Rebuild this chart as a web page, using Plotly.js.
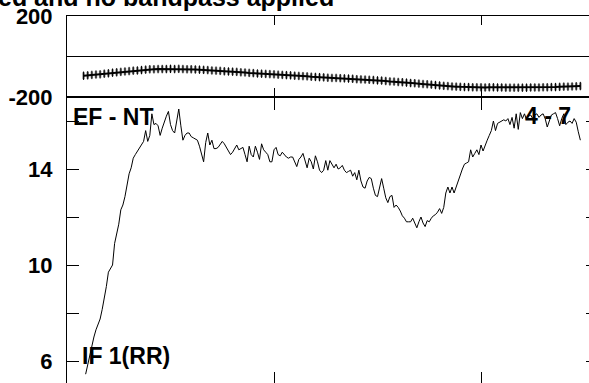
<!DOCTYPE html>
<html>
<head>
<meta charset="utf-8">
<script src="https://cdn.plot.ly/plotly-3.0.1.min.js"></script>
<style>
html, body { margin: 0; padding: 0; overflow: hidden; background: #fff; width: 589px; height: 383px; }
#chart { position: absolute; left: 0; top: 0; }
</style>
</head>
<body>
<div id="chart"></div>
<script>
// Lower panel: IF 1(RR), sampled every 1 unit starting at x = 9
const ifStart = 9;
const ifStep = 1;
const ifValues = [
  5.45, 5.85, 6.3, 6.6, 7.0, 7.3, 7.55, 7.75, 8.15, 8.6,
  9.1, 9.7, 9.85, 10.0, 10.9, 11.3, 11.7, 12.3, 12.5, 12.85,
  13.4, 13.8, 14.05, 14.45, 14.6, 14.75, 14.9, 15.05, 15.15, 15.6,
  15.15, 15.4, 16.3, 15.85, 15.9, 15.8, 15.4, 15.7, 16.0, 16.2,
  16.4, 15.85, 15.6, 15.5, 16.0, 16.5, 15.8, 15.2, 15.4, 15.5,
  15.5, 15.35, 15.3, 15.25, 15.2, 14.95, 14.6, 14.3, 15.1, 15.5,
  15.0, 15.2, 14.85, 14.85, 14.9, 15.05, 15.15, 15.05, 14.9, 14.7,
  14.6, 14.7, 14.85, 15.0, 14.8, 14.85, 14.9, 14.6, 14.3, 14.95,
  14.6, 14.5, 14.95, 14.7, 14.4, 15.05, 14.8, 14.7, 14.6, 14.3,
  14.3, 14.8, 14.9, 14.6, 14.55, 14.7, 14.6, 14.5, 14.45, 14.5,
  14.5, 14.3, 14.1, 14.4, 14.5, 14.65, 14.3, 14.05, 14.45, 14.3,
  14.0, 14.55, 14.3, 13.95, 13.85, 13.95, 14.35, 13.95, 14.35, 14.2,
  14.05, 14.2, 14.0, 14.05, 14.15, 13.95, 13.85, 13.9, 13.95, 13.7,
  13.85, 13.55, 13.95, 13.5, 13.25, 13.2, 13.5, 13.65, 13.6, 13.2,
  12.9, 12.85, 13.3, 13.6, 13.2, 12.8, 12.6, 12.85, 12.9, 12.4,
  12.5, 12.4, 12.25, 12.05, 11.95, 11.8, 11.8, 11.8, 11.95, 11.75,
  11.55, 11.8, 12.0, 11.75, 11.6, 11.85, 11.8, 11.95, 12.05, 12.1,
  12.2, 12.35, 12.15, 12.4, 13.0, 13.25, 13.0, 13.25, 13.0, 13.25,
  13.55, 13.75, 14.0, 14.2, 14.25, 14.3, 14.8, 14.5, 14.65, 14.8,
  14.6, 15.0, 14.75, 15.0, 15.2, 15.4, 15.6, 16.0, 15.6, 15.9,
  15.95, 16.0, 16.05, 16.0, 16.1, 15.85, 16.15, 15.7, 16.3, 15.65,
  16.35, 16.1, 16.3, 16.05, 16.2, 16.25, 16.1, 16.25, 16.3, 16.15,
  16.25, 16.3, 16.1, 15.75, 16.05, 16.25, 16.3, 16.35, 16.1, 15.8,
  16.1, 16.3, 15.85, 15.95, 16.0, 15.9, 16.1, 15.95, 15.55, 15.2
];

// Upper panel: EF - NT, sampled every 2 units starting at x = 8
const efStart = 8;
const efStep = 2;
const efValues = [
  -95, -93, -91, -89, -88, -85, -83, -80, -78, -76,
  -74, -72, -70, -69, -67, -65, -63, -63, -62, -62,
  -62, -61, -62, -61, -62, -63, -63, -64, -65, -66,
  -67, -69, -70, -71, -73, -74, -75, -76, -78, -79,
  -81, -82, -84, -85, -86, -87, -88, -90, -91, -92,
  -93, -95, -96, -97, -98, -100, -101, -102, -103, -105,
  -106, -106, -107, -108, -109, -110, -112, -113, -114, -115,
  -116, -118, -119, -121, -123, -124, -126, -127, -129, -131,
  -132, -134, -136, -137, -139, -141, -143, -145, -146, -148,
  -149, -150, -151, -151, -152, -152, -152, -153, -152, -152,
  -153, -153, -154, -154, -154, -154, -154, -154, -153, -153,
  -153, -152, -152, -151, -151, -150, -149, -149, -148, -147,
  -146
];
const efError = 17;

const xTicks = [0, 100, 200];
const lowTickVals = [6, 8, 10, 12, 14, 16];
const lowTickText = ['6', '', '10', '', '14', ''];
const topTickVals = [-200, 200];
const topTickText = ['-200', '200'];

const titleText = 'ed and no bandpass applied';
const labelTop = 'EF - NT';
const labelLow = 'IF 1(RR)';
const labelBand = '4 - 7';

const FONT = 'Liberation Sans, Arial, Helvetica, sans-serif';

const traces = [
  {
    type: 'scatter', mode: 'lines',
    x0: ifStart, dx: ifStep, y: ifValues,
    xaxis: 'x', yaxis: 'y',
    line: { color: '#000', width: 1 },
    hoverinfo: 'skip', showlegend: false
  },
  {
    type: 'scatter', mode: 'lines+markers',
    x0: efStart, dx: efStep, y: efValues,
    xaxis: 'x2', yaxis: 'y2',
    line: { color: '#000', width: 2 },
    marker: { symbol: 'line-ns-open', size: 6, color: '#000', line: { width: 1, color: '#000' } },
    error_y: { type: 'constant', value: efError, color: '#8c8c8c', thickness: 2.5, width: 0 },
    hoverinfo: 'skip', showlegend: false
  }
];

const W = 620, H = 400;
const L = 67, R = W - 598, T = 16, B = H - 385;
const plotH = H - T - B;
const split = 1 - (97 - T) / plotH;
const xMax = (598 - L) / 2.07;

const axisCommon = {
  showgrid: false, zeroline: false, showline: true, linecolor: '#000', linewidth: 1,
  ticks: 'inside', tickcolor: '#000', tickwidth: 1
};

const tickFont = { family: FONT, size: 22, color: '#000', weight: 'bold' };
const labelFont = { family: FONT, size: 23, color: '#000', weight: 'bold' };

function px2paperX(px) { return (px - L) / (598 - L); }
function px2paperY(py) { return 1 - (py - T) / plotH; }

const layout = {
  width: W, height: H,
  margin: { l: L, r: R, t: T, b: B, pad: 0 },
  paper_bgcolor: '#fff', plot_bgcolor: '#fff',
  showlegend: false,
  xaxis: Object.assign({}, axisCommon, {
    anchor: 'y', domain: [0, 1], range: [0, xMax],
    tickvals: xTicks, ticklen: 13, mirror: 'ticks', showticklabels: false
  }),
  xaxis2: Object.assign({}, axisCommon, {
    anchor: 'y2', domain: [0, 1], range: [0, xMax], matches: 'x',
    tickvals: xTicks, ticklen: 9, mirror: 'ticks', showticklabels: false
  }),
  yaxis: Object.assign({}, axisCommon, {
    anchor: 'x', domain: [0, split], range: [5, 17],
    tickvals: lowTickVals, ticktext: lowTickText, ticklen: 12, mirror: 'ticks',
    tickfont: tickFont, ticklabelstandoff: 9
  }),
  yaxis2: Object.assign({}, axisCommon, {
    anchor: 'x2', domain: [split, 1], range: [-200, 200],
    tickvals: topTickVals, ticktext: topTickText, ticks: '', mirror: true,
    zeroline: true, zerolinecolor: '#000', zerolinewidth: 1,
    tickfont: tickFont, ticklabelstandoff: 9
  }),
  annotations: [
    { text: titleText, xref: 'paper', yref: 'paper', x: px2paperX(-4), y: 1, xanchor: 'left', yanchor: 'bottom',
      yshift: 3, showarrow: false, font: { family: FONT, size: 25, color: '#000', weight: 'bold' } },
    { text: labelTop, xref: 'paper', yref: 'paper', x: px2paperX(71), y: px2paperY(117), xanchor: 'left', yanchor: 'middle',
      showarrow: false, font: labelFont },
    { text: labelLow, xref: 'paper', yref: 'paper', x: px2paperX(80), y: px2paperY(356), xanchor: 'left', yanchor: 'middle',
      showarrow: false, font: labelFont },
    { text: labelBand, xref: 'paper', yref: 'paper', x: px2paperX(523), y: px2paperY(116), xanchor: 'left', yanchor: 'middle',
      showarrow: false, font: labelFont }
  ]
};

Plotly.newPlot('chart', traces, layout, { displayModeBar: false, staticPlot: true });
</script>
</body>
</html>
